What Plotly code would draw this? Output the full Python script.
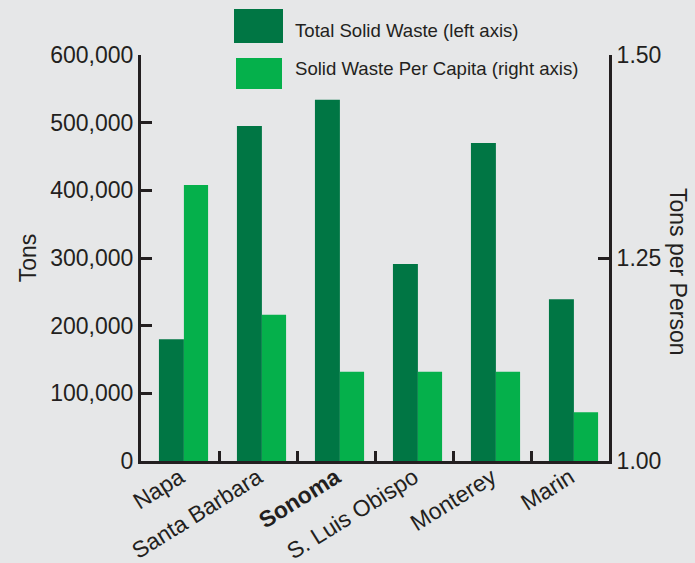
import plotly.graph_objects as go

categories = ["Napa", "Santa Barbara", "Sonoma", "S. Luis Obispo", "Monterey", "Marin"]
category_labels = ["Napa", "Santa Barbara", "<b>Sonoma</b>", "S. Luis Obispo", "Monterey", "Marin"]
total_waste = [180000, 495000, 534000, 291000, 470000, 239000]
per_capita = [1.34, 1.18, 1.11, 1.11, 1.11, 1.06]
left_ticks = [0, 100000, 200000, 300000, 400000, 500000, 600000]
right_ticks = [1.00, 1.25, 1.50]
per_capita_base = 1.0

DARK = "#007644"
LIGHT = "#05b04b"
INK = "#231f20"
BG = "#e6e7e8"
FONT = "Liberation Sans, Arial, sans-serif"

fig = go.Figure()
fig.add_trace(go.Bar(x=categories, y=total_waste, name="Total Solid Waste (left axis)",
                     marker=dict(color=DARK, line=dict(width=0)),
                     offset=-0.27, width=0.32, yaxis="y"))
fig.add_trace(go.Bar(x=categories, y=[v - per_capita_base for v in per_capita],
                     base=per_capita_base,
                     name="Solid Waste Per Capita (right axis)",
                     marker=dict(color=LIGHT, line=dict(width=0)),
                     offset=0.05, width=0.31, yaxis="y2"))

axis_common = dict(showline=True, linecolor=INK, linewidth=3, ticks="inside",
                   tickcolor=INK, tickwidth=3, showgrid=False, zeroline=False,
                   automargin=False,
                   tickfont=dict(family=FONT, size=23, color=INK))

fig.update_layout(
    width=695, height=563,
    margin=dict(l=141, r=86, t=55, b=102),
    paper_bgcolor=BG, plot_bgcolor=BG,
    barmode="overlay",
    showlegend=False,
    font=dict(family=FONT, color=INK),
    xaxis=dict(type="category", tickson="boundaries", ticklen=10,
               tickvals=categories, ticktext=category_labels, tickangle=-32,
               ticklabelstandoff=-9,
               range=[-0.5, 5.5], **axis_common),
    yaxis=dict(range=[0, 600000], tickvals=left_ticks, tickformat=",", ticklen=11,
               title=dict(text="Tons", font=dict(family=FONT, size=23, color=INK), standoff=8),
               **axis_common),
    yaxis2=dict(range=[1.0, 1.5], tickvals=right_ticks, tickformat=".2f", ticklen=11,
                overlaying="y", side="right", **axis_common),
)

fig.add_annotation(text="Tons per Person", textangle=90, xref="paper", yref="paper",
                   x=(678 - 141) / 468, y=(461 - 271) / 406, showarrow=False,
                   xanchor="center", yanchor="middle",
                   font=dict(family=FONT, size=23, color=INK))

# custom legend
legend_items = [("Total Solid Waste (left axis)", DARK, 9, 43, 234, 283, 30),
                ("Solid Waste Per Capita (right axis)", LIGHT, 58, 89, 236, 282, 68)]
for text, color, y0, y1, x0, x1, ty in legend_items:
    fig.add_shape(type="rect", xref="paper", yref="paper",
                  x0=(x0 - 141) / 468, x1=(x1 - 141) / 468,
                  y0=(461 - y1) / 406, y1=(461 - y0) / 406,
                  fillcolor=color, line=dict(width=0))
    fig.add_annotation(text=text, xref="paper", yref="paper",
                       x=(293 - 141) / 468, y=(461 - ty) / 406,
                       xanchor="left", yanchor="middle", showarrow=False,
                       font=dict(family=FONT, size=18.6, color=INK))

fig.write_html("out.html", config={"displayModeBar": False},
               post_script="document.body.style.margin='0';document.body.style.background='#e6e7e8';")
